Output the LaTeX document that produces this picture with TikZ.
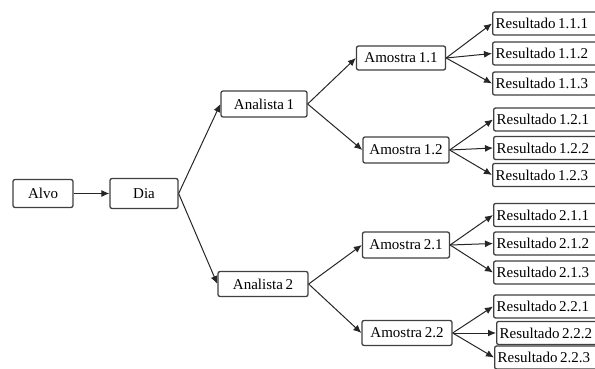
\documentclass[tikz,border=0pt]{standalone}
\usepackage{fontspec}
\setmainfont{Liberation Serif}
\usetikzlibrary{arrows.meta}
\newcommand\tightspace{\spaceskip=2.6pt plus 0.5pt\relax}
\begin{document}
\begin{tikzpicture}[x=1pt,y=-1pt,
  box/.style={draw=black!75, line width=1.3pt, rounded corners=2pt, fill=white,
    inner sep=0pt, font=\fontsize{15}{17}\selectfont, execute at begin node=\tightspace},
  res/.style={box, anchor=west, minimum height=23pt, text width=112pt, align=left, inner xsep=3pt},
  arr/.style={-{Latex[length=8pt,width=7pt]}, line width=1pt, black!85}]
\useasboundingbox (0,0) rectangle (595,369);
\node[box, minimum width=60pt, minimum height=28pt] (alvo) at (43,193.5) {Alvo};
\node[box, minimum width=68pt, minimum height=30pt] (dia) at (144,193.5) {Dia};
\node[box, minimum width=86pt, minimum height=26pt] (an1) at (264,104) {Analista 1};
\node[box, minimum width=90pt, minimum height=25pt] (an2) at (263,284) {Analista 2};
\node[box, minimum width=89pt, minimum height=24pt] (am11) at (401,58) {Amostra 1.1};
\node[box, minimum width=86pt, minimum height=26pt] (am12) at (406,150) {Amostra 1.2};
\node[box, minimum width=87pt, minimum height=26pt] (am21) at (406,245) {Amostra 2.1};
\node[box, minimum width=90pt, minimum height=25pt] (am22) at (407,333) {Amostra 2.2};
\node[res] (r111) at (492,23.5) {Resultado 1.1.1};
\node[res] (r112) at (492,53.5) {Resultado 1.1.2};
\node[res] (r113) at (492,83.5) {Resultado 1.1.3};
\node[res] (r121) at (493,119.5) {Resultado 1.2.1};
\node[res] (r122) at (493,148) {Resultado 1.2.2};
\node[res] (r123) at (492,175) {Resultado 1.2.3};
\node[res] (r211) at (493,215) {Resultado 2.1.1};
\node[res] (r212) at (493,243.5) {Resultado 2.1.2};
\node[res] (r213) at (493,272.5) {Resultado 2.1.3};
\node[res] (r221) at (493,306.5) {Resultado 2.2.1};
\node[res] (r222) at (496,333) {Resultado 2.2.2};
\node[res] (r223) at (494,357.5) {Resultado 2.2.3};
\draw[arr] (alvo.east) -- (dia.west);
\draw[arr] (dia.east) -- (an1.west);
\draw[arr] (dia.east) -- (an2.west);
\draw[arr] (an1.east) -- (am11.west);
\draw[arr] (an1.east) -- (am12.west);
\draw[arr] (an2.east) -- (am21.west);
\draw[arr] (an2.east) -- (am22.west);
\foreach \p/\c in {am11/r111,am11/r112,am11/r113,am12/r121,am12/r122,am12/r123,
                   am21/r211,am21/r212,am21/r213,am22/r221,am22/r222,am22/r223}
  \draw[arr] (\p.east) -- (\c.west);
\end{tikzpicture}
\end{document}
